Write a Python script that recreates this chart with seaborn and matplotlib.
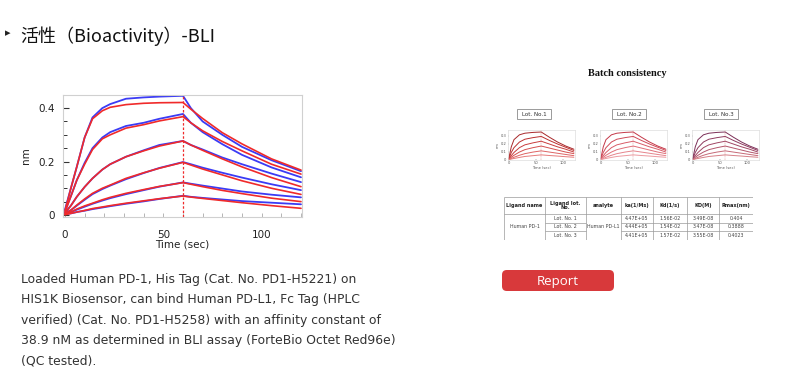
import numpy as np
import pandas as pd
import matplotlib
matplotlib.use("Agg")
import matplotlib.pyplot as plt
import seaborn as sns
from matplotlib.patches import FancyBboxPatch, Rectangle
from matplotlib.ticker import MultipleLocator

sns.set_theme(style="white")
plt.rcParams['font.family'] = ['DejaVu Sans']

# ---------------- data ----------------
time = [0, 3, 6, 10, 14, 19, 23, 31, 40, 48, 60, 64, 70, 80, 90, 105, 120]
switch_time = 60

fit_1 = [0.015, 0.10, 0.18, 0.29, 0.36, 0.39, 0.403, 0.413, 0.418, 0.420, 0.421, 0.396, 0.361, 0.308, 0.266, 0.210, 0.168]
fit_2 = [0.010, 0.07, 0.13, 0.19, 0.245, 0.285, 0.300, 0.325, 0.338, 0.352, 0.368, 0.345, 0.315, 0.275, 0.240, 0.190, 0.153]
fit_3 = [0.005, 0.035, 0.068, 0.105, 0.137, 0.170, 0.190, 0.218, 0.240, 0.258, 0.277, 0.262, 0.242, 0.210, 0.180, 0.140, 0.106]
fit_4 = [0.003, 0.018, 0.037, 0.060, 0.081, 0.100, 0.112, 0.137, 0.158, 0.175, 0.197, 0.187, 0.172, 0.150, 0.128, 0.100, 0.077]
fit_5 = [0.002, 0.011, 0.022, 0.034, 0.044, 0.057, 0.066, 0.081, 0.095, 0.107, 0.121, 0.115, 0.106, 0.092, 0.080, 0.063, 0.050]
fit_6 = [0.001, 0.006, 0.011, 0.017, 0.024, 0.030, 0.035, 0.044, 0.053, 0.061, 0.071, 0.067, 0.062, 0.054, 0.046, 0.035, 0.025]

raw_1 = [0.020, 0.10, 0.18, 0.29, 0.365, 0.40, 0.415, 0.435, 0.440, 0.443, 0.446, 0.400, 0.350, 0.300, 0.255, 0.205, 0.164]
raw_2 = [0.015, 0.07, 0.13, 0.195, 0.25, 0.29, 0.310, 0.333, 0.345, 0.360, 0.378, 0.345, 0.310, 0.265, 0.225, 0.178, 0.141]
raw_3 = [0.010, 0.035, 0.068, 0.105, 0.137, 0.170, 0.190, 0.218, 0.242, 0.262, 0.277, 0.262, 0.245, 0.215, 0.190, 0.155, 0.123]
raw_4 = [0.008, 0.018, 0.035, 0.057, 0.078, 0.097, 0.110, 0.134, 0.157, 0.176, 0.198, 0.190, 0.177, 0.158, 0.140, 0.115, 0.093]
raw_5 = [0.006, 0.011, 0.020, 0.031, 0.042, 0.054, 0.063, 0.078, 0.093, 0.106, 0.122, 0.117, 0.110, 0.099, 0.088, 0.076, 0.066]
raw_6 = [0.004, 0.006, 0.011, 0.016, 0.022, 0.028, 0.033, 0.042, 0.051, 0.060, 0.072, 0.068, 0.064, 0.058, 0.052, 0.046, 0.040]

fits = [fit_1, fit_2, fit_3, fit_4, fit_5, fit_6]
raws = [raw_1, raw_2, raw_3, raw_4, raw_5, raw_6]

# batch-consistency thumbnails (the three lots look alike)
lot_time = [0, 5, 10, 20, 30, 45, 60, 75, 90, 105, 120]
lot_c1 = [0.0, 0.160, 0.250, 0.310, 0.330, 0.340, 0.345, 0.280, 0.220, 0.170, 0.130]
lot_c2 = [0.0, 0.090, 0.150, 0.220, 0.255, 0.275, 0.290, 0.240, 0.195, 0.155, 0.115]
lot_c3 = [0.0, 0.050, 0.090, 0.150, 0.185, 0.210, 0.230, 0.195, 0.160, 0.130, 0.095]
lot_c4 = [0.0, 0.030, 0.055, 0.095, 0.125, 0.150, 0.170, 0.145, 0.120, 0.095, 0.075]
lot_c5 = [0.0, 0.015, 0.030, 0.055, 0.075, 0.095, 0.110, 0.095, 0.080, 0.065, 0.050]
lot_c6 = [0.0, 0.008, 0.015, 0.028, 0.040, 0.050, 0.060, 0.052, 0.045, 0.037, 0.030]
lot_curves = [lot_c1, lot_c2, lot_c3, lot_c4, lot_c5, lot_c6]

main_xticks = [0, 50, 100]
main_yticks = [0, 0.2, 0.4]
main_yticklabels = ["0", "0.2", "0.4"]

lot_labels = ["Lot. No.1", "Lot. No.2", "Lot. No.3"]
small_yticks = [0, 0.1, 0.2, 0.3]
small_yticklabels = ["0", "0.1", "0.2", "0.3"]

table_header = ["Ligand name", "Ligand lot.\nNo.", "analyte", "ka(1/Ms)", "Kd(1/s)", "KD(M)", "Rmax(nm)"]
ligand_name = "Human PD-1"
analyte_name = "Human PD-L1"
table_lots = ["Lot. No. 1", "Lot. No. 2", "Lot. No. 3"]
ka_vals = ["4.47E+05", "4.44E+05", "4.41E+05"]
kd_vals = ["1.56E-02", "1.54E-02", "1.57E-02"]
KD_vals = ["3.49E-08", "3.47E-08", "3.55E-08"]
rmax_vals = ["0.404", "0.3888", "0.4023"]

title_text = "活性（Bioactivity）-BLI"
body_lines = [
    "Loaded Human PD-1, His Tag (Cat. No. PD1-H5221) on",
    "HIS1K Biosensor, can bind Human PD-L1, Fc Tag (HPLC",
    "verified) (Cat. No. PD1-H5258) with an affinity constant of",
    "38.9 nM as determined in BLI assay (ForteBio Octet Red96e)",
    "(QC tested).",
]

# ---------------- frames ----------------
rows = []
for i, (f, r) in enumerate(zip(fits, raws)):
    for t, fv, rv in zip(time, f, r):
        rows.append({"time": t, "signal": rv, "curve": i, "kind": "raw"})
        rows.append({"time": t, "signal": fv, "curve": i, "kind": "fit"})
df = pd.DataFrame(rows)

lot_rows = []
for i, c in enumerate(lot_curves):
    for t, v in zip(lot_time, c):
        lot_rows.append({"time": t, "signal": v, "curve": f"c{i}"})
lot_df = pd.DataFrame(lot_rows)

W, H = 800, 371
fig = plt.figure(figsize=(W / 100, H / 100), dpi=100)
fig.patch.set_facecolor("white")


def ax_px(l, t, r, b):
    return fig.add_axes([l / W, 1 - b / H, (r - l) / W, (b - t) / H])


# ---------------- main chart ----------------
ax = ax_px(63, 95, 302, 217)
sns.lineplot(data=df[df.kind == "raw"], x="time", y="signal", units="curve",
             estimator=None, color="#3b3bf5", lw=1.3, ax=ax, legend=False)
sns.lineplot(data=df[df.kind == "fit"], x="time", y="signal", units="curve",
             estimator=None, color="#f02a2a", lw=1.2, ax=ax, legend=False)
ax.axvline(switch_time, color="#f02a2a", lw=0.9, ls=(0, (2, 1.5)))
ax.set_xlim(-1, 120.5)
ax.set_ylim(-0.0075, 0.449)
ax.set_xticks(main_xticks)
ax.set_yticks(main_yticks)
ax.set_yticklabels(main_yticklabels)
ax.xaxis.set_minor_locator(MultipleLocator(10))
ax.yaxis.set_minor_locator(MultipleLocator(0.05))
ax.tick_params(axis="both", which="both", direction="in", colors="#333333",
               labelsize=7.5, labelcolor="#222222")
ax.tick_params(axis="y", which="major", length=4, width=0.8, left=True, pad=6)
ax.tick_params(axis="y", which="minor", length=3, width=0.7, left=True)
ax.tick_params(axis="x", which="major", length=3, width=0.6, bottom=True, pad=9,
               color="#aaaaaa")
ax.tick_params(axis="x", which="minor", length=3, width=0.6, bottom=True, color="#aaaaaa")
for s in ax.spines.values():
    s.set_color("#d0d0d0")
    s.set_linewidth(0.8)
ax.set_xlabel("Time (sec)", fontsize=7.5, color="#222222", labelpad=0)
ax.set_ylabel("nm", fontsize=7.5, color="#222222", labelpad=5)

# ---------------- small lot charts ----------------
lot_palettes = [
    ["#a8282a", "#bb3030", "#c83c3c", "#d44e4e", "#de6464", "#e67c7c"],
    ["#c43848", "#cf4a58", "#d85c68", "#e06e78", "#e6848c", "#ec9aa0"],
    ["#7c3058", "#8e3a5e", "#a04664", "#b4566c", "#c66a78", "#d68088"],
]
small_lefts = [508, 600, 692]
box_lefts = [517, 612, 704]
for k in range(3):
    l = small_lefts[k]
    sa = ax_px(l, 130, l + 67, 160)
    sns.lineplot(data=lot_df, x="time", y="signal", hue="curve",
                 palette=lot_palettes[k], estimator=None, lw=0.7, ax=sa, legend=False)
    sa.axvline(switch_time, color="#cc6666", lw=0.3, ls=(0, (2, 1.5)))
    sa.set_xlim(-1, 122)
    sa.set_ylim(-0.004, 0.37)
    sa.set_xticks(main_xticks)
    sa.set_yticks(small_yticks)
    sa.set_yticklabels(small_yticklabels)
    sa.tick_params(labelsize=2.6, length=1, width=0.3, pad=1, colors="#555555",
                   direction="in", left=True, bottom=True)
    for s in sa.spines.values():
        s.set_color("#dddddd")
        s.set_linewidth(0.5)
    sa.set_xlabel("Time (sec)", fontsize=2.6, labelpad=0.5, color="#555555")
    sa.set_ylabel("nm", fontsize=2.6, labelpad=1, color="#555555")
    bl = box_lefts[k]
    fig.patches.append(Rectangle((bl / W, 1 - 119 / H), 34 / W, 10 / H,
                                 transform=fig.transFigure, fill=False,
                                 edgecolor="#8a8a8a", lw=0.6))
    fig.text((bl + 17) / W, 1 - 114 / H, lot_labels[k], fontsize=4.1,
             ha="center", va="center", color="#333333")

fig.text(627 / W, 1 - 73 / H, "Batch consistency", fontsize=7.5,
         fontweight="bold", family="Liberation Serif", ha="center",
         va="center", color="#111111")

# ---------------- table ----------------
tab = ax_px(504, 197, 753, 240)
tab.set_xlim(504, 753)
tab.set_ylim(240, 197)
tab.axis("off")
cols = [504, 545, 586, 621, 653, 687, 719, 753]
ys = [197, 213.5, 222.5, 231, 240]
lc = "#9a9a9a"
lw = 0.5
tab.hlines([197, 213.5, 240], 504, 753, color=lc, lw=lw)
tab.hlines([222.5, 231], 545, 586, color=lc, lw=lw)
tab.hlines([222.5, 231], 621, 753, color=lc, lw=lw)
tab.vlines(cols, 197, 240, color=lc, lw=lw)
for j, h in enumerate(table_header):
    tab.text((cols[j] + cols[j + 1]) / 2, 205.5, h, fontsize=3.6, fontweight="bold",
             ha="center", va="center", color="#222222", linespacing=0.95)
tab.text((cols[0] + cols[1]) / 2, 226.8, ligand_name, fontsize=3.4,
         ha="center", va="center", color="#444444")
tab.text((cols[2] + cols[3]) / 2, 226.8, analyte_name, fontsize=3.4,
         ha="center", va="center", color="#444444")
for i in range(3):
    yc = (ys[i + 1] + ys[i + 2]) / 2
    vals = [table_lots[i], ka_vals[i], kd_vals[i], KD_vals[i], rmax_vals[i]]
    for j, v in zip([1, 3, 4, 5, 6], vals):
        tab.text((cols[j] + cols[j + 1]) / 2, yc, v, fontsize=3.4,
                 ha="center", va="center", color="#444444")

# ---------------- report button ----------------
btn = FancyBboxPatch((502 / W, 1 - 291 / H), 112 / W, 21 / H,
                     boxstyle="round,pad=0,rounding_size=0.006",
                     transform=fig.transFigure, facecolor="#d8393b",
                     edgecolor="none", mutation_aspect=W / H)
fig.patches.append(btn)
fig.text(558 / W, 1 - 281 / H, "Report", fontsize=9.5, color="white",
         ha="center", va="center", family="Open Sans")

# ---------------- title & body text ----------------
fig.text(5 / W, 1 - 33 / H, "\u25B8", fontsize=8, color="#222222",
         ha="left", va="center", family="DejaVu Sans")
fig.text(20 / W, 1 - 36 / H, title_text, fontsize=13, color="#111111",
         ha="left", va="center", family=["Noto Sans CJK SC", "DejaVu Sans"])

for i, line in enumerate(body_lines):
    fig.text(21 / W, 1 - (283 + i * 20.3) / H, line, fontsize=8.9,
             color="#333333", ha="left", va="baseline", family="DejaVu Sans")

fig.savefig("out.png", dpi=100, facecolor="white")
